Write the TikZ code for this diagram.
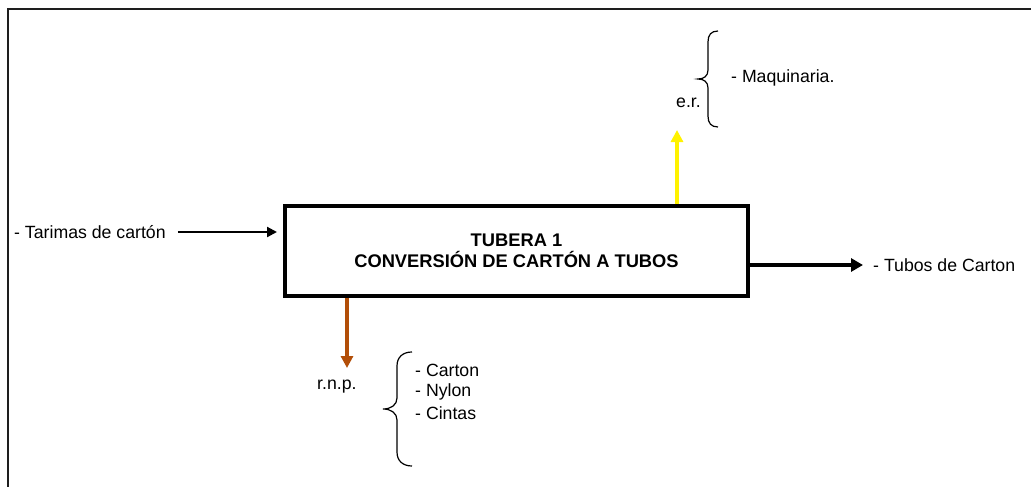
\documentclass[tikz,border=0pt]{standalone}
\usepackage{fontspec}
\setmainfont{Liberation Sans}
\usetikzlibrary{arrows.meta}
\definecolor{brownarrow}{RGB}{178,78,8}
\definecolor{framegray}{RGB}{30,30,30}
\begin{document}
\begin{tikzpicture}[x=1pt,y=-1pt,
  txt/.style={font=\fontsize{17.7}{20}\selectfont, inner sep=0pt, anchor=west},
  brc/.style={line width=1.2pt},
  flow/.style={line width=#1},
]
\useasboundingbox (0,0) rectangle (1031,487);
% frame
\draw[line width=2.5pt, framegray] (8,487) -- (8,9) -- (1031,9);
% main box
\node[draw, line width=4pt, minimum width=463pt, minimum height=90pt, align=center,
      font=\bfseries\fontsize{18.3}{21.5}\selectfont] (box) at (516.5,251)
      {TUBERA 1\\CONVERSIÓN DE CARTÓN A TUBOS};
% input
\node[txt] (tar) at (14,232) {- Tarimas de cartón};
\draw[flow=2.2pt, -{Triangle[length=10pt,width=10pt]}, shorten <=12pt, shorten >=6pt]
  (tar.east) -- (tar.east -| box.west);
% output
\node[txt] (tub) at (873,265) {- Tubos de Carton};
\draw[flow=4pt, -{Triangle[length=12pt,width=13pt]}, shorten >=10pt]
  (box.east |- tub.west) -- (tub.west);
% e.r.
\coordinate (ytip) at (677,130);
\draw[flow=4pt, yellow, -{Triangle[length=12pt,width=12pt]}] (box.north -| ytip) -- (ytip);
\node[txt] (er) at (676,103) {e.r.};
\node[txt] (maq) at (731,78) {- Maquinaria.};
\draw[brc] (718,31) .. controls (711,31) and (708,35) .. (708,42) -- (708,70)
  .. controls (708,76) and (704,79) .. (698,79)
  .. controls (704,79) and (708,82) .. (708,88) -- (708,116)
  .. controls (708,123) and (711,127) .. (718,127);
% r.n.p.
\coordinate (btip) at (347,368);
\draw[flow=4pt, brownarrow, -{Triangle[length=12pt,width=12pt]}] (box.south -| btip) -- (btip);
\node[txt] (rnp) at (317,387) {r.n.p.};
\node[txt] (c1) at (415,370) {- Carton};
\node[txt] (c2) at (415,392) {- Nylon};
\node[txt] (c3) at (415,413) {- Cintas};
\draw[brc] (412,352) .. controls (403,352) and (397,357) .. (397,366) -- (397,398)
  .. controls (397,405) and (391,409) .. (383,409)
  .. controls (391,409) and (397,413) .. (397,420) -- (397,452)
  .. controls (397,461) and (403,466) .. (412,466);
\end{tikzpicture}
\end{document}
